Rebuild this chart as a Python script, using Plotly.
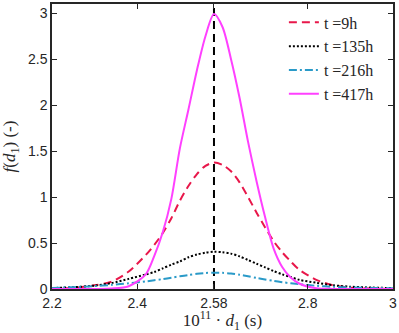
import plotly.graph_objects as go

# ---- data ----
x_vals = [2.20, 2.25, 2.30, 2.34, 2.38, 2.42, 2.44, 2.46, 2.48, 2.50, 2.52, 2.54, 2.56, 2.58,
          2.60, 2.62, 2.64, 2.66, 2.68, 2.70, 2.72, 2.74, 2.76, 2.78, 2.82, 2.86, 2.90, 2.95, 3.00]

f_9h = [0.003, 0.012, 0.04, 0.08, 0.19, 0.37, 0.48, 0.61, 0.77, 0.96, 1.12, 1.25, 1.34, 1.375,
        1.35, 1.28, 1.16, 1.00, 0.83, 0.67, 0.52, 0.40, 0.30, 0.21, 0.10, 0.04, 0.015, 0.004, 0.001]

f_135h = [0.01, 0.02, 0.037, 0.065, 0.11, 0.158, 0.185, 0.225, 0.265, 0.30, 0.345, 0.375, 0.395, 0.405,
          0.40, 0.385, 0.355, 0.315, 0.275, 0.235, 0.195, 0.16, 0.13, 0.10, 0.068, 0.04, 0.025, 0.016, 0.01]

f_216h = [0.012, 0.02, 0.032, 0.045, 0.062, 0.083, 0.095, 0.108, 0.123, 0.138, 0.152, 0.165, 0.174, 0.178,
          0.176, 0.168, 0.155, 0.138, 0.12, 0.104, 0.088, 0.074, 0.062, 0.052, 0.035, 0.024, 0.017, 0.012, 0.008]

f_417h = [0.0, 0.0, 0.001, 0.005, 0.03, 0.16, 0.36, 0.62, 0.98, 1.53, 1.95, 2.38, 2.75, 2.99,
          2.85, 2.50, 2.08, 1.60, 1.17, 0.78, 0.44, 0.24, 0.125, 0.06, 0.008, 0.001, 0.0, 0.0, 0.0]

series_names = ["t =9h", "t =135h", "t =216h", "t =417h"]
peak_x = 2.58

x_tickvals = [2.2, 2.4, 2.58, 2.8, 3]
x_ticktext = ["2.2", "2.4", "2.58", "2.8", "3"]
y_tickvals = [0, 0.5, 1, 1.5, 2, 2.5, 3]
y_ticktext = ["0", "0.5", "1", "1.5", "2", "2.5", "3"]

# ---- styles ----
styles = [
    dict(color="#E8174A", dash="8px,5px", width=2),
    dict(color="#000000", dash="2px,2px", width=2),
    dict(color="#2A9AC8", dash="8px,3px,2px,3px", width=2),
    dict(color="#FF40FF", dash="solid", width=2),
]

fig = go.Figure()
for name, ys, st in zip(series_names, [f_9h, f_135h, f_216h, f_417h], styles):
    fig.add_trace(go.Scatter(x=x_vals, y=ys, mode="lines", name=name,
                             line=dict(shape="spline", smoothing=0.8, **st)))

fig.add_vline(x=peak_x, line=dict(color="black", dash="8px,5px", width=2), layer="below")

serif = "Liberation Serif, DejaVu Serif, serif"
sans = "Liberation Sans, Arial, sans-serif"

fig.update_layout(
    width=399, height=333,
    margin=dict(l=52, r=6, t=2, b=44),
    paper_bgcolor="white", plot_bgcolor="white",
    showlegend=True,
    legend=dict(x=0.68, y=0.995, xanchor="left", yanchor="top",
                bgcolor="rgba(255,255,255,0)", borderwidth=0,
                font=dict(family=serif, size=16, color="#262626"),
                tracegroupgap=0, itemwidth=30),
    xaxis=dict(range=[2.2, 3.0], tickvals=x_tickvals, ticktext=x_ticktext,
               ticks="inside", ticklen=5, tickwidth=1.3, tickcolor="#262626",
               showline=True, linecolor="#262626", linewidth=1.5, mirror="ticks",
               showgrid=False, zeroline=False,
               tickfont=dict(family=sans, size=14, color="#262626"),
               title=dict(text="10<sup>11</sup> · <i>d</i><sub>1</sub> (s)",
                          font=dict(family=serif, size=17, color="#262626"), standoff=4)),
    yaxis=dict(range=[0, 3.1], tickvals=y_tickvals, ticktext=y_ticktext,
               ticks="inside", ticklen=5, tickwidth=1.3, tickcolor="#262626",
               showline=True, linecolor="#262626", linewidth=1.5, mirror="ticks",
               showgrid=False, zeroline=False,
               tickfont=dict(family=sans, size=14, color="#262626"),
               title=dict(text="<i>f</i>(<i>d</i><sub>1</sub>) (-)",
                          font=dict(family=serif, size=17, color="#262626"), standoff=8)),
)

fig.write_html("out.html", config={"displayModeBar": False},
               post_script="document.body.style.margin='0';document.body.style.overflow='hidden';")
